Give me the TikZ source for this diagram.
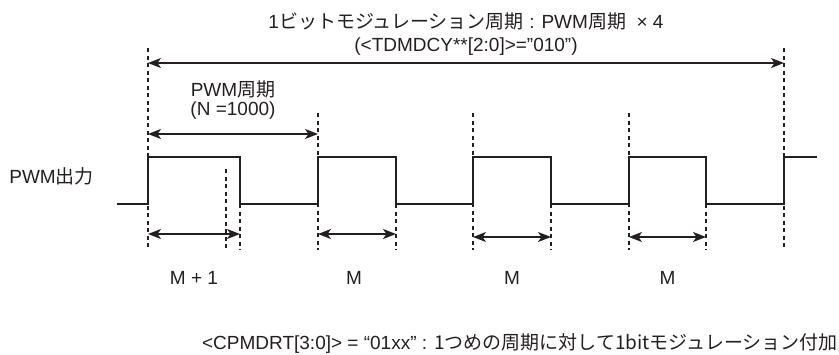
\documentclass[tikz,border=0pt]{standalone}
\usepackage{fontspec}
\setmainfont{Liberation Sans}
\newfontfamily\jafont{Noto Sans CJK JP}
\usepackage{tikz}
\usetikzlibrary{arrows.meta,calc}
\definecolor{OndaPWM}{RGB}{35,31,32}

\begin{document}
\begin{tikzpicture}[x=1pt,y=-1pt,>={Stealth[length=13pt,width=10pt,inset=3.5pt]},
  onda/.style={line width=2.6pt,OndaPWM},
  guia/.style={OndaPWM,line width=1.1pt,dash pattern=on 4pt off 3.5pt},
  cota/.style={<->,line width=1.3pt,OndaPWM},
  texto/.style={font=\fontsize{19}{22}\selectfont,text=OndaPWM,inner sep=0pt}]
  \useasboundingbox (0,0) rectangle (839,354);
  % forma de onda PWM
  \draw[onda] (117,204) -| (148,157) -| (240,204) -| (318,157) -| (396,204)
    -| (473,157) -| (551,204) -| (629,157) -| (706,204) -| (784,157) -- (817,157);
  % lineas guia
  \draw[guia] (148,48) -- (148,250);
  \draw[guia] (784,48) -- (784,250);
  \draw[guia] (318,113) -- (318,250);
  \draw[guia] (473,113) -- (473,250);
  \draw[guia] (629,113) -- (629,250);
  \draw[guia] (240,204) -- (240,250);
  \draw[guia] (396,204) -- (396,250);
  \draw[guia] (551,204) -- (551,250);
  \draw[guia] (706,204) -- (706,250);
  \draw[guia] (226,169) -- (226,250);
  % extremos de las cotas
  \coordinate (mod0) at (148,63);  \coordinate (mod1) at (784,63);
  \coordinate (per0) at (148,134); \coordinate (per1) at (318,134);
  \coordinate (h1a) at (148,234);  \coordinate (h1b) at (240,234);
  \coordinate (h2a) at (318,234);  \coordinate (h2b) at (396,234);
  \coordinate (h3a) at (473,237);  \coordinate (h3b) at (551,237);
  \coordinate (h4a) at (629,237);  \coordinate (h4b) at (706,237);
  \draw[cota] (mod0) -- (mod1);
  \draw[cota] (per0) -- (per1);
  \draw[cota] (h1a) -- (h1b);
  \draw[cota] (h2a) -- (h2b);
  \draw[cota] (h3a) -- (h3b);
  \draw[cota] (h4a) -- (h4b);
  % textos
  \node[texto] (titulo) at (466,21) {1{\jafont ビットモジュレーション周期} : PWM{\jafont 周期}\ \ × 4};
  \node[texto] (registro) at (466,47) {(<TDMDCY**[2:0]>=”010”)};
  \node[texto] (periodo) at (233,89) {PWM{\jafont 周期}};
  \node[texto] (cuenta) at (233,111) {(N =1000)};
  \node[texto,anchor=east] (salida) at (94,176) {PWM{\jafont 出力}};
  \node[texto] (ancho1) at ($(h1a)!0.5!(h1b)+(0,44)$) {M + 1};
  \node[texto] (ancho2) at ($(h2a)!0.5!(h2b)+(-3,44)$) {M};
  \node[texto] (ancho3) at ($(h3a)!0.5!(h3b)+(0,41)$) {M};
  \node[texto] (ancho4) at ($(h4a)!0.5!(h4b)+(0,41)$) {M};
  \node[texto,anchor=east] (nota) at (838,343) {<CPMDRT[3:0]> = “01xx” : {\jafont 1つめの周期に対して1bitモジュレーション付加}};
\end{tikzpicture}
\end{document}
